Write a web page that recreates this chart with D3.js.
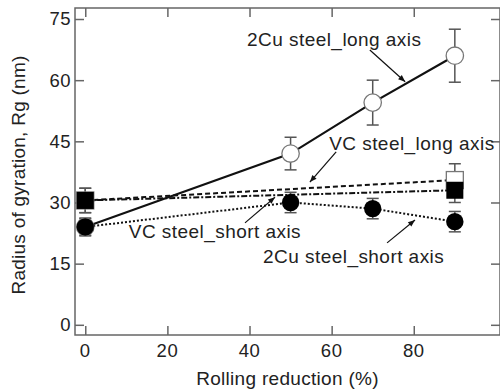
<!DOCTYPE html>
<html>
<head>
	<style>
		html, body { margin: 0; background: white; }
		svg { display: block; }
		text { font-family: "Liberation Sans", Arial, Helvetica, sans-serif; fill: #222; }
	</style>
	<script src="https://cdn.jsdelivr.net/npm/d3@7/dist/d3.min.js"></script>
</head>
<body>
	<svg id="svg" width="500" height="392"></svg>
	<script>
		// rolling reduction (%)
		const cuX = [0, 50, 70, 90];
		const vcX = [0, 90];

		// radius of gyration (nm) and error half-widths
		const cuLong = [24, 42, 54.5, 66];
		const cuLongErr = [2, 4, 5.5, 6.5];
		const cuShort = [24, 30, 28.5, 25.3];
		const cuShortErr = [2.2, 2.5, 2.5, 2.5];
		const vcLong = [30.5, 35.5];
		const vcLongErr = [3, 4];
		const vcShort = [30.5, 33];
		const vcShortErr = [3, 3];

		const xTicks = [0, 20, 40, 60, 80];
		const yTicks = [0, 15, 30, 45, 60, 75];

		// annotation: label start, arrow from -> to (data units)
		const notes = [
			{ text: '2Cu steel_long axis', x: 39.4, y: 68.4, ax: [69.3, 67.4], at: [77.9, 59.6] },
			{ text: 'VC steel_long axis', x: 59.4, y: 42.9, ax: [61.1, 42.4], at: [54.7, 35.0] },
			{ text: 'VC steel_short axis', x: 10.6, y: 21.3, ax: [38.9, 25.0], at: [46.2, 31.3] },
			{ text: '2Cu steel_short axis', x: 43.3, y: 15.2, ax: [73.5, 20.1], at: [80.3, 25.7] }
		];

		const svg = d3.select('#svg');
		const mLeft = 75, mRight = 500, mTop = 8, mBottom = 335;

		const x = d3.scaleLinear().domain([-2.5, 101]).range([mLeft, mRight]);
		const y = d3.scaleLinear().domain([-2.5, 77.7]).range([mBottom, mTop]);

		const frameColor = '#666';
		const tickLen = 9;

		// frame
		svg.append('rect')
			.attr('x', mLeft).attr('y', mTop)
			.attr('width', mRight - mLeft).attr('height', mBottom - mTop)
			.attr('fill', 'none').attr('stroke', frameColor).attr('stroke-width', 1.5);

		// inward ticks on all four sides
		svg.append('g').attr('transform', `translate(0,${mBottom})`)
			.call(d3.axisTop(x).tickValues(xTicks).tickSize(tickLen).tickFormat(''))
			.call(g => g.select('.domain').remove());
		svg.append('g').attr('transform', `translate(0,${mTop})`)
			.call(d3.axisBottom(x).tickValues(xTicks).tickSize(tickLen).tickFormat(''))
			.call(g => g.select('.domain').remove());
		svg.append('g').attr('transform', `translate(${mLeft},0)`)
			.call(d3.axisRight(y).tickValues(yTicks).tickSize(tickLen).tickFormat(''))
			.call(g => g.select('.domain').remove());
		svg.append('g').attr('transform', `translate(${mRight},0)`)
			.call(d3.axisLeft(y).tickValues(yTicks).tickSize(tickLen).tickFormat(''))
			.call(g => g.select('.domain').remove());
		svg.selectAll('.tick line').attr('stroke', frameColor).attr('stroke-width', 1.5);

		// tick labels
		svg.append('g').selectAll('text').data(xTicks).join('text')
			.attr('x', d => x(d)).attr('y', 357)
			.attr('text-anchor', 'middle').attr('font-size', 18.5).attr('letter-spacing', 0.5)
			.text(d => d);
		svg.append('g').selectAll('text').data(yTicks).join('text')
			.attr('x', 71).attr('y', d => y(d)).attr('dy', '0.35em')
			.attr('text-anchor', 'end').attr('font-size', 18.5).attr('letter-spacing', 0.5)
			.text(d => d);

		// axis titles
		svg.append('text')
			.attr('x', (mLeft + mRight) / 2).attr('y', 385)
			.attr('text-anchor', 'middle').attr('font-size', 19).attr('letter-spacing', 0.3)
			.text('Rolling reduction (%)');
		svg.append('text')
			.attr('transform', `translate(25,175) rotate(-90)`)
			.attr('text-anchor', 'middle').attr('font-size', 19).attr('letter-spacing', 0.25)
			.text('Radius of gyration, Rg (nm)');

		// lines
		const line = d3.line().x(d => x(d[0])).y(d => y(d[1]));
		const zip = (xs, ys) => xs.map((v, i) => [v, ys[i]]);

		svg.append('path').datum(zip(vcX, vcLong)).attr('d', line)
			.attr('fill', 'none').attr('stroke', '#111').attr('stroke-width', 2).attr('stroke-dasharray', '5,3');
		svg.append('path').datum(zip(vcX, vcShort)).attr('d', line)
			.attr('fill', 'none').attr('stroke', '#111').attr('stroke-width', 2).attr('stroke-dasharray', '6,2,2,2');
		svg.append('path').datum(zip(cuX, cuShort)).attr('d', line)
			.attr('fill', 'none').attr('stroke', '#111').attr('stroke-width', 2).attr('stroke-dasharray', '2,2');
		svg.append('path').datum(zip(cuX, cuLong)).attr('d', line)
			.attr('fill', 'none').attr('stroke', '#111').attr('stroke-width', 2.2);

		// error bars
		function errorBars(xs, ys, es) {
			const g = svg.append('g').attr('stroke', '#555').attr('stroke-width', 1.5);
			const d = xs.map((v, i) => ({ x: v, lo: ys[i] - es[i], hi: ys[i] + es[i] }));
			g.selectAll('.v').data(d).join('line').attr('class', 'v')
				.attr('x1', p => x(p.x)).attr('x2', p => x(p.x))
				.attr('y1', p => y(p.lo)).attr('y2', p => y(p.hi));
			g.selectAll('.hi').data(d).join('line').attr('class', 'hi')
				.attr('x1', p => x(p.x) - 6).attr('x2', p => x(p.x) + 6)
				.attr('y1', p => y(p.hi)).attr('y2', p => y(p.hi));
			g.selectAll('.lo').data(d).join('line').attr('class', 'lo')
				.attr('x1', p => x(p.x) - 6).attr('x2', p => x(p.x) + 6)
				.attr('y1', p => y(p.lo)).attr('y2', p => y(p.lo));
		}
		errorBars(vcX, vcLong, vcLongErr);
		errorBars(vcX, vcShort, vcShortErr);
		errorBars(cuX, cuLong, cuLongErr);
		errorBars(cuX, cuShort, cuShortErr);

		// markers
		const sq = 17;
		svg.append('g').selectAll('rect').data(zip(vcX, vcLong)).join('rect')
			.attr('x', d => x(d[0]) - sq / 2).attr('y', d => y(d[1]) - sq / 2)
			.attr('width', sq).attr('height', sq)
			.attr('fill', 'white').attr('stroke', '#777').attr('stroke-width', 1.3);
		svg.append('g').selectAll('rect').data(zip(vcX, vcShort)).join('rect')
			.attr('x', d => x(d[0]) - sq / 2).attr('y', d => y(d[1]) - sq / 2)
			.attr('width', sq).attr('height', sq)
			.attr('fill', '#000');
		svg.append('g').selectAll('circle').data(zip(cuX, cuLong)).join('circle')
			.attr('cx', d => x(d[0])).attr('cy', d => y(d[1])).attr('r', 8.7)
			.attr('fill', 'white').attr('stroke', '#777').attr('stroke-width', 1.3);
		svg.append('g').selectAll('circle').data(zip(cuX, cuShort)).join('circle')
			.attr('cx', d => x(d[0])).attr('cy', d => y(d[1])).attr('r', 8.7)
			.attr('fill', '#000');

		// annotations
		svg.append('defs').append('marker')
			.attr('id', 'arrow').attr('viewBox', '0 0 10 10')
			.attr('refX', 10).attr('refY', 5)
			.attr('markerWidth', 9).attr('markerHeight', 7)
			.attr('markerUnits', 'userSpaceOnUse').attr('orient', 'auto')
			.append('path').attr('d', 'M0,1 L10,5 L0,9 Z').attr('fill', '#111');

		notes.forEach(n => {
			svg.append('line')
				.attr('x1', x(n.ax[0])).attr('y1', y(n.ax[1]))
				.attr('x2', x(n.at[0])).attr('y2', y(n.at[1]))
				.attr('stroke', '#111').attr('stroke-width', 1.2)
				.attr('marker-end', 'url(#arrow)');
			svg.append('text')
				.attr('x', x(n.x)).attr('y', y(n.y))
				.attr('font-size', 19).attr('letter-spacing', 0.45)
				.text(n.text);
		});
	</script>
</body>
</html>
